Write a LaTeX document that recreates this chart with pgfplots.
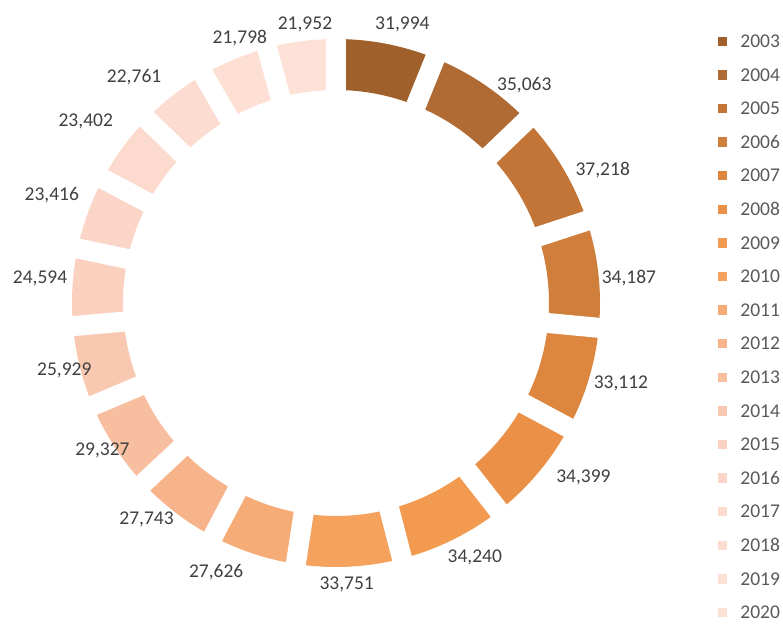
\documentclass[border=0pt]{standalone}
\usepackage{pgfplots}
\pgfplotsset{compat=1.18}
\usepackage{pgfplotstable}
\usepackage{fontspec}
\setmainfont{Carlito}

\definecolor{c0}{HTML}{A0602B}
\definecolor{c1}{HTML}{B06A34}
\definecolor{c2}{HTML}{C27537}
\definecolor{c3}{HTML}{D07E3B}
\definecolor{c4}{HTML}{DC863F}
\definecolor{c5}{HTML}{EA9147}
\definecolor{c6}{HTML}{F19A50}
\definecolor{c7}{HTML}{F5A25E}
\definecolor{c8}{HTML}{F6AC77}
\definecolor{c9}{HTML}{F7B48A}
\definecolor{c10}{HTML}{F8BEA0}
\definecolor{c11}{HTML}{F9C8B0}
\definecolor{c12}{HTML}{FAD0BE}
\definecolor{c13}{HTML}{FBD6C8}
\definecolor{c14}{HTML}{FCDACD}
\definecolor{c15}{HTML}{FCDCD0}
\definecolor{c16}{HTML}{FDDFD4}
\definecolor{c17}{HTML}{FDE0D6}
\definecolor{lbltext}{HTML}{404040}
\definecolor{lgtext}{HTML}{595959}

% value: data; loff / lrad: label placement (angle offset from the slice middle, radius)
\pgfplotstableread{
year value loff lrad
2003 31994 -2.4 286
2004 35063 -6.7 288
2005 37218 -4.5 298
2006 34187 -1.5 294
2007 33112 1.1 296
2008 34399 4.8 303
2009 34240 2.3 290
2010 33751 -0.7 282
2011 27626 -5.7 295
2012 27743 -3.8 288
2013 29327 -0.8 276
2014 25929 0 280
2015 24594 -1.3 297
2016 23416 -0.8 304
2017 23402 0.2 309
2018 22761 3.8 303
2019 21798 -2.7 282
2020 21952 -1.2 280
}\donutdata

\begin{document}
\begin{tikzpicture}
\gdef\dtotal{0}
\foreach \i in {0,...,17}{%
  \pgfplotstablegetelem{\i}{value}\of\donutdata
  \xdef\dtotal{\fpeval{\dtotal+\pgfplotsretval}}%
}
\gdef\drun{0}
\foreach \i in {0,...,17}{%
  \pgfplotstablegetelem{\i}{value}\of\donutdata
  \expandafter\xdef\csname dv\i\endcsname{\pgfplotsretval}%
  \expandafter\xdef\csname dS\i\endcsname{\fpeval{round(90-360*\drun/\dtotal,4)}}%
  \xdef\drun{\fpeval{\drun+\pgfplotsretval}}%
  \expandafter\xdef\csname dE\i\endcsname{\fpeval{round(90-360*\drun/\dtotal,4)}}%
  \pgfplotstablegetelem{\i}{loff}\of\donutdata
  \expandafter\xdef\csname dM\i\endcsname{\fpeval{round((\csname dS\i\endcsname+\csname dE\i\endcsname)/2+\pgfplotsretval,4)}}%
  \pgfplotstablegetelem{\i}{lrad}\of\donutdata
  \expandafter\xdef\csname dR\i\endcsname{\pgfplotsretval}%
  \pgfplotstablegetelem{\i}{year}\of\donutdata
  \expandafter\xdef\csname dy\i\endcsname{\pgfplotsretval}%
}
\begin{axis}[
  x=1bp, y=1bp,
  xmin=-336, xmax=447, ymin=-322, ymax=303,
  hide axis, clip=false,
  legend image code/.code={\fill[#1] (0bp,-4.25bp) rectangle (8.5bp,4.25bp);},
  legend cell align=left,
  legend style={draw=none, fill=none, at={(axis cs:381.5,268.5)}, anchor=north west,
    inner sep=0pt, outer sep=0pt,
    font=\fontsize{19.5bp}{23bp}\selectfont, text=lgtext,
    row sep=20.6bp,
    nodes={inner sep=0pt, outer sep=0pt, text height=13bp, text depth=0pt},
    /tikz/every odd column/.append style={column sep=14bp}},
]
\path (rel axis cs:0,0) rectangle (rel axis cs:1,1);
\pgfplotsinvokeforeach{0,...,17}{%
  \addplot[draw=c#1, line width=51bp, line cap=butt, line join=round, no markers,
    samples=40, domain={\csname dE#1\endcsname}:{\csname dS#1\endcsname}, forget plot]
    ({238.5*cos(x)},{238.5*sin(x)});
}
\pgfplotsinvokeforeach{0,...,17}{%
  \addplot[draw=white, line width=20bp, line cap=butt, no markers, samples=2,
    domain=200:275, forget plot]
    ({x*cos(\csname dS#1\endcsname)},{x*sin(\csname dS#1\endcsname)});
}
\pgfplotsinvokeforeach{0,...,17}{%
  \addlegendimage{color=c#1}
  \addlegendentry{\csname dy#1\endcsname}
}
\pgfplotsinvokeforeach{0,...,17}{%
  \node[anchor=center, inner sep=0pt, text=lbltext,
    font=\fontsize{19.5bp}{23bp}\selectfont]
    at (axis cs:{\csname dR#1\endcsname*cos(\csname dM#1\endcsname)},{\csname dR#1\endcsname*sin(\csname dM#1\endcsname)})
    {\pgfmathprintnumber[/pgf/number format/assume math mode=true, fixed, precision=0, 1000 sep={,}]{\csname dv#1\endcsname}};
}
\end{axis}
\end{tikzpicture}
\end{document}
